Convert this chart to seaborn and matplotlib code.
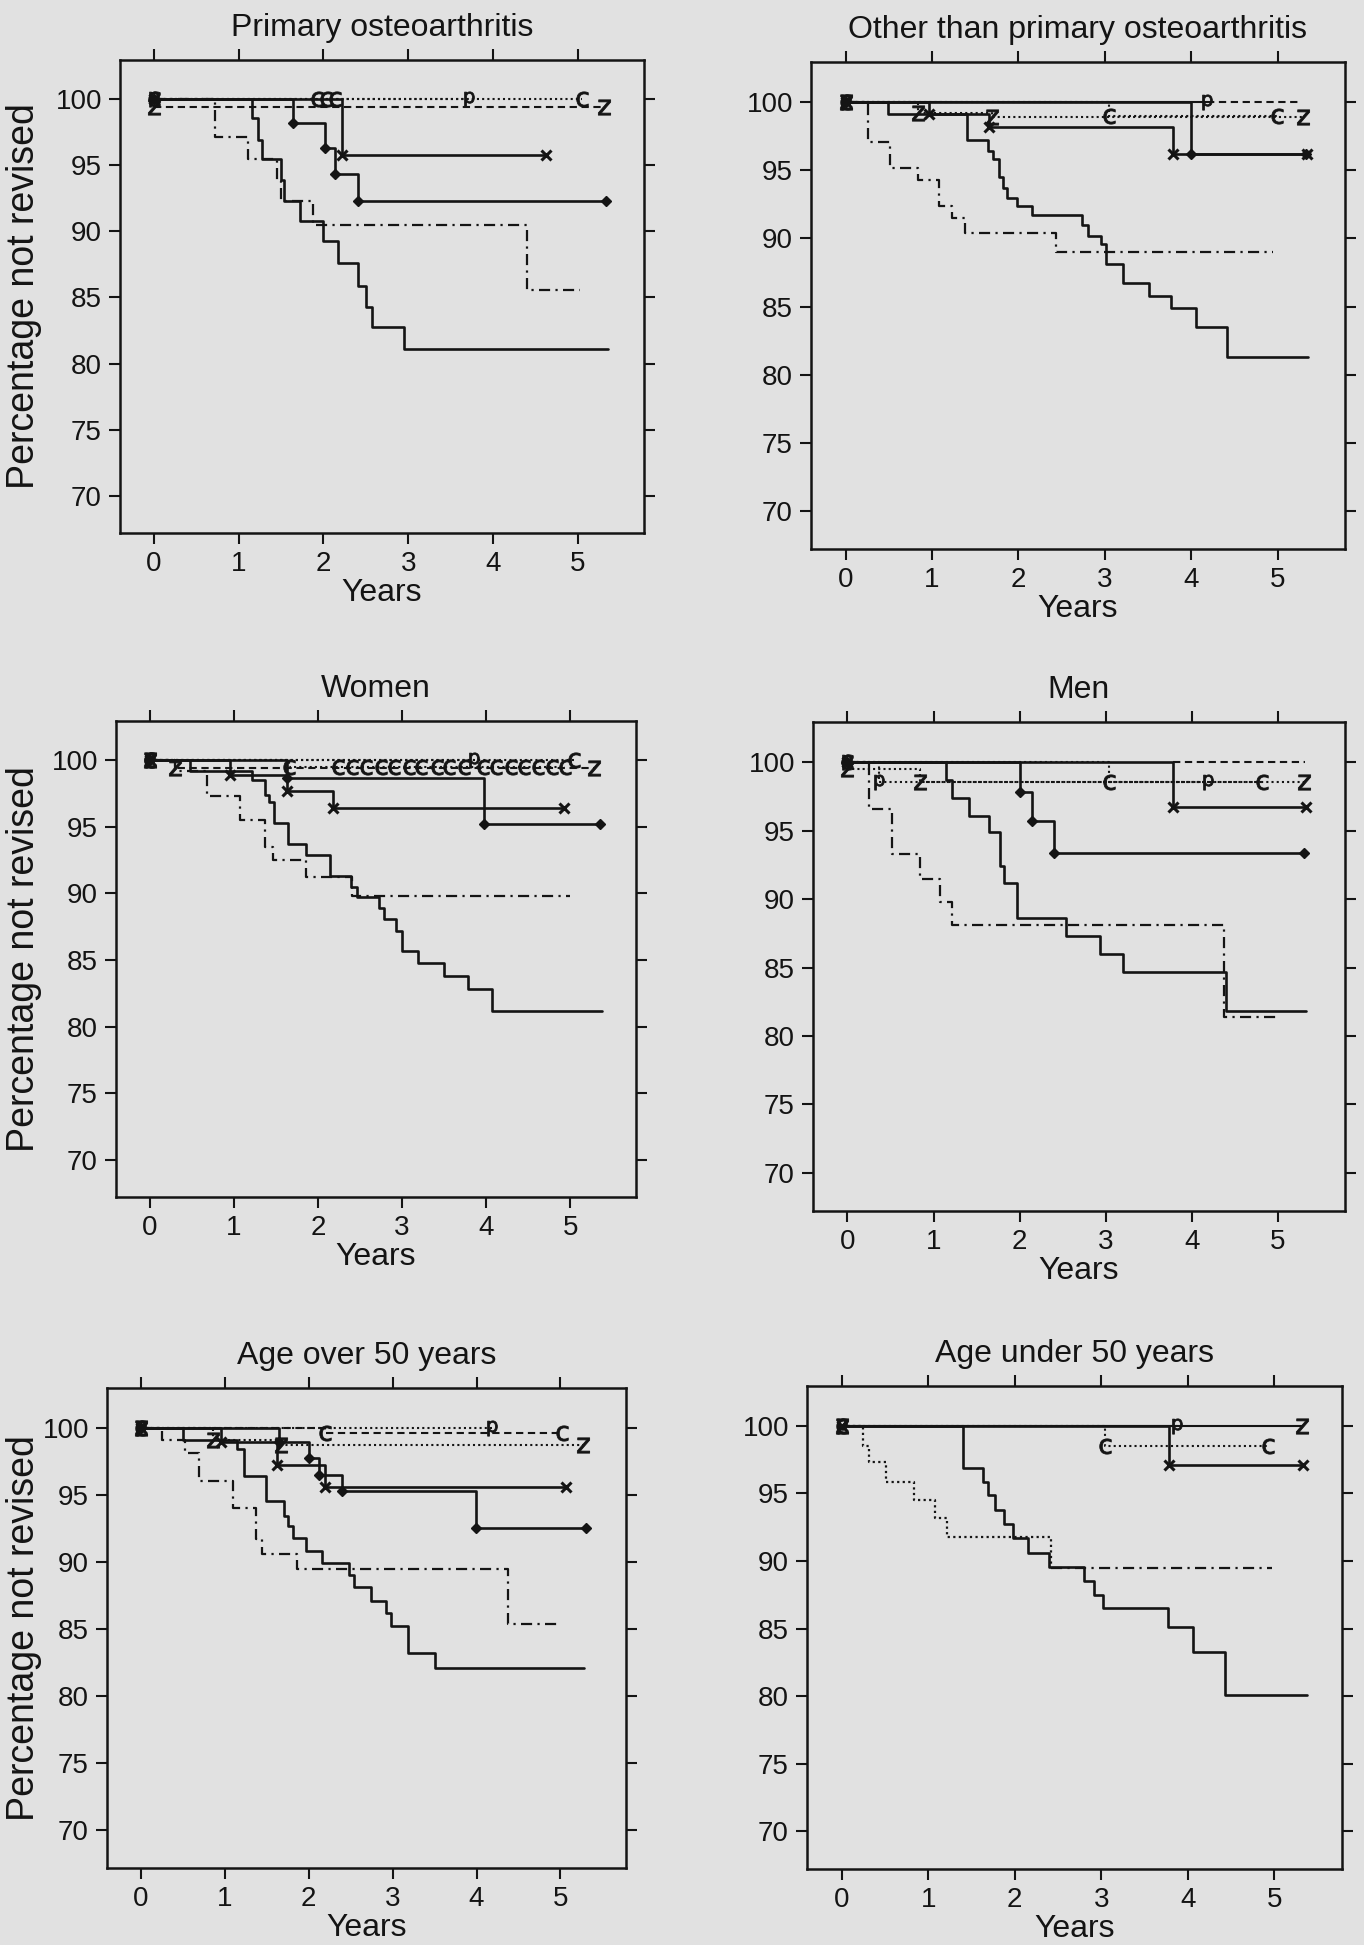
import matplotlib
matplotlib.use("Agg")
import matplotlib.pyplot as plt
import seaborn as sns

# Kaplan-Meier steps: (years, percentage not revised)
POA_SOLID = [(0, 100), (1.16, 98.6), (1.23, 96.9), (1.27, 95.5), (1.50, 93.9), (1.53, 92.3), (1.72, 90.8),
             (1.99, 89.3), (2.17, 87.6), (2.41, 85.9), (2.50, 84.3), (2.57, 82.8), (2.95, 81.1), (5.35, 81.1)]
POA_DASHDOT = [(0, 100), (0.72, 97.1), (1.11, 95.5), (1.45, 93.8), (1.50, 92.3), (1.88, 90.5), (4.40, 85.6), (5.03, 85.6)]
POA_DIAMOND = [(0, 100), (1.64, 98.2), (2.02, 96.3), (2.14, 94.3), (2.41, 92.3), (5.33, 92.3)]
POA_X = [(0, 100), (2.22, 95.8), (4.63, 95.8)]
POA_P = [(0, 100), (3.72, 100)]
POA_C = [(0, 100), (1.92, 100), (2.03, 100), (2.14, 100), (5.05, 100)]
POA_Z = [(0, 99.4), (5.31, 99.4)]

OTHER_SOLID = [(0, 100), (0.49, 99.1), (1.41, 97.2), (1.65, 96.4), (1.71, 95.8), (1.77, 94.5), (1.82, 93.7),
               (1.87, 93.0), (1.98, 92.4), (2.16, 91.7), (2.74, 91.0), (2.80, 90.2), (2.96, 89.6), (3.01, 88.1),
               (3.21, 86.7), (3.51, 85.8), (3.77, 84.9), (4.05, 83.5), (4.42, 81.3), (5.35, 81.3)]
OTHER_DASHDOT = [(0, 100), (0.26, 97.1), (0.51, 95.2), (0.84, 94.3), (1.08, 92.4), (1.23, 91.5), (1.38, 90.4),
                 (2.43, 89.0), (4.95, 89.0)]
OTHER_DIAMOND = [(0, 100), (4.00, 96.2), (5.33, 96.2)]
OTHER_X = [(0, 100), (0.97, 99.1), (1.66, 98.2), (3.79, 96.2), (5.34, 96.2)]
OTHER_P = [(0, 100), (4.18, 100)]
OTHER_TAIL = [(4.18, 100), (5.27, 100)]
OTHER_C = [(0, 100), (3.05, 99.0), (4.99, 99.0)]
OTHER_Z = [(0, 100), (0.84, 99.2), (1.70, 98.9), (5.29, 98.9)]

WOMEN_SOLID = [(0, 100), (0.48, 99.2), (1.22, 98.5), (1.37, 97.4), (1.42, 96.9), (1.48, 95.3), (1.65, 93.7),
               (1.86, 92.9), (2.14, 91.3), (2.39, 90.5), (2.46, 89.7), (2.73, 88.9), (2.79, 88.1), (2.93, 87.2),
               (3.00, 85.7), (3.19, 84.8), (3.50, 83.8), (3.78, 82.8), (4.07, 81.2), (5.37, 81.2)]
WOMEN_DASHDOT = [(0, 100), (0.30, 99.2), (0.68, 97.3), (1.07, 95.5), (1.37, 93.5), (1.46, 92.5), (1.86, 91.2),
                 (2.40, 89.8), (5.00, 89.8)]
WOMEN_DIAMOND = [(0, 100), (1.63, 98.7), (3.97, 95.2), (5.35, 95.2)]
WOMEN_X = [(0, 100), (0.95, 98.9), (1.63, 97.7), (2.18, 96.4), (4.92, 96.4)]
WOMEN_P = [(0, 100), (3.86, 100)]
WOMEN_C = [(0, 100), (5.04, 100)]
WOMEN_CENS = [(0, 100), (1.66, 99.5), (2.24, 99.5), (2.41, 99.5), (2.57, 99.5), (2.75, 99.5), (2.90, 99.5),
              (3.08, 99.5), (3.23, 99.5), (3.41, 99.5), (3.56, 99.5), (3.73, 99.5), (3.96, 99.5), (4.12, 99.5),
              (4.29, 99.5), (4.45, 99.5), (4.62, 99.5), (4.78, 99.5), (4.94, 99.5)]
WOMEN_Z = [(0, 100), (0.30, 99.4), (5.28, 99.4)]

MEN_SOLID = [(0, 100), (1.14, 98.7), (1.22, 97.4), (1.41, 96.1), (1.64, 94.9), (1.77, 92.4), (1.82, 91.2),
             (1.97, 88.6), (2.54, 87.3), (2.93, 86.0), (3.20, 84.7), (4.40, 81.8), (5.33, 81.8)]
MEN_DASHDOT = [(0, 100), (0.25, 96.6), (0.52, 93.3), (0.84, 91.5), (1.07, 89.8), (1.22, 88.1), (4.38, 81.4), (4.98, 81.4)]
MEN_DIAMOND = [(0, 100), (2.01, 97.8), (2.14, 95.7), (2.40, 93.4), (5.30, 93.4)]
MEN_X = [(0, 100), (3.78, 96.7), (5.33, 96.7)]
MEN_TAIL = [(3.78, 100), (5.32, 100)]
MEN_P = [(0, 100), (0.37, 98.6), (4.19, 98.6)]
MEN_C = [(0, 100), (3.04, 98.6), (4.82, 98.6)]
MEN_Z = [(0, 99.5), (0.84, 98.6), (5.30, 98.6)]

OVER50_SOLID = [(0, 100), (0.50, 99.1), (1.15, 98.4), (1.23, 96.4), (1.49, 94.5), (1.71, 93.4), (1.75, 92.7),
                (1.81, 91.8), (1.97, 90.8), (2.16, 89.9), (2.48, 89.0), (2.54, 88.1), (2.74, 87.1), (2.92, 86.2),
                (2.98, 85.2), (3.18, 83.2), (3.50, 82.1), (5.28, 82.1)]
OVER50_DASHDOT = [(0, 100), (0.25, 99.1), (0.53, 98.1), (0.70, 96.0), (1.10, 94.0), (1.38, 91.7), (1.45, 90.6),
                  (1.86, 89.5), (4.37, 85.4), (4.99, 85.4)]
OVER50_DIAMOND = [(0, 100), (1.65, 98.9), (2.00, 97.7), (2.13, 96.5), (2.40, 95.3), (3.99, 92.5), (5.30, 92.5)]
OVER50_X = [(0, 100), (0.96, 98.9), (1.63, 97.2), (2.19, 95.6), (5.07, 95.6)]
OVER50_P = [(0, 100), (4.18, 100)]
OVER50_C = [(0, 100), (2.20, 99.6), (5.02, 99.6)]
OVER50_Z = [(0, 100), (0.86, 99.1), (1.67, 98.7), (5.27, 98.7)]

UNDER50_SOLID = [(0, 100), (1.40, 96.9), (1.63, 95.85), (1.69, 94.85), (1.77, 93.75), (1.88, 92.7), (1.98, 91.7),
                 (2.15, 90.6), (2.40, 89.55), (2.80, 88.5), (2.92, 87.5), (3.02, 86.5), (3.77, 85.1), (4.06, 83.25),
                 (4.43, 80.05), (5.37, 80.05)]
UNDER50_DOTTED = [(0, 100), (0.25, 98.5), (0.32, 97.3), (0.51, 95.85), (0.84, 94.5), (1.08, 93.15), (1.22, 91.8),
                  (2.42, 89.5)]
UNDER50_DASHDOT = [(2.42, 89.5), (4.97, 89.5)]
UNDER50_X = [(0, 100), (3.78, 97.1), (5.33, 97.1)]
UNDER50_P = [(0, 100), (3.87, 100)]
UNDER50_C = [(0, 100), (3.04, 98.5), (4.93, 98.5)]
UNDER50_Z = [(0, 100), (5.32, 100)]

TITLES = ["Primary osteoarthritis", "Other than primary osteoarthritis", "Women", "Men",
          "Age over 50 years", "Age under 50 years"]
YEAR_TICKS = [0, 1, 2, 3, 4, 5]
PCT_TICKS = [70, 75, 80, 85, 90, 95, 100]

PANELS = [
    [(POA_P, "p:"), (POA_C, "c:"), (POA_Z, "z--"), (POA_X, "x"), (POA_DIAMOND, "diamond"),
     (POA_DASHDOT, "dashdot"), (POA_SOLID, "solid")],
    [(OTHER_TAIL, "dashed"), (OTHER_P, "p-"), (OTHER_C, "c:"), (OTHER_Z, "z:"), (OTHER_X, "x"),
     (OTHER_DIAMOND, "diamond"), (OTHER_DASHDOT, "dashdot"), (OTHER_SOLID, "solid")],
    [(WOMEN_P, "p:"), (WOMEN_C, "c:"), (WOMEN_CENS, "c:"), (WOMEN_Z, "z--"), (WOMEN_X, "x"),
     (WOMEN_DIAMOND, "diamond"), (WOMEN_DASHDOT, "dashdot"), (WOMEN_SOLID, "solid")],
    [(MEN_TAIL, "dashed"), (MEN_P, "p:"), (MEN_C, "c:"), (MEN_Z, "z:"), (MEN_X, "x"),
     (MEN_DIAMOND, "diamond"), (MEN_DASHDOT, "dashdot"), (MEN_SOLID, "solid")],
    [(OVER50_P, "p:"), (OVER50_C, "c--"), (OVER50_Z, "z:"), (OVER50_X, "x"), (OVER50_DIAMOND, "diamond"),
     (OVER50_DASHDOT, "dashdot"), (OVER50_SOLID, "solid")],
    [(UNDER50_P, "p-"), (UNDER50_Z, "z-"), (UNDER50_C, "c:"), (UNDER50_X, "x"),
     (UNDER50_DOTTED, "dotted"), (UNDER50_DASHDOT, "dashdot"), (UNDER50_SOLID, "solid")],
]

# plot frames on the 1364 x 1945 page, pixels: left, right, top, bottom
FRAMES = [(120, 644, 60, 533), (811, 1345, 62, 549),
          (116, 636, 721, 1197), (813, 1345, 722, 1211),
          (107, 626, 1388, 1868), (807, 1342, 1386, 1869)]
W, H = 1364, 1945
YLABEL_RIGHT = 42  # page pixel where the rotated y label ends

INK = "#141414"
PAPER = "#e1e1e1"
LS = {"-": "-", ":": (0, (1, 1.5)), "--": (0, (3.5, 2.2))}


def line_kws(style):
    if style == "solid":
        return dict(ls="-", lw=1.9)
    if style == "dashdot":
        return dict(ls=(0, (5, 2.4, 1, 2.4)), lw=1.6)
    if style == "dotted":
        return dict(ls=LS[":"], lw=1.6)
    if style == "dashed":
        return dict(ls=LS["--"], lw=1.5)
    if style == "diamond":
        return dict(ls="-", lw=1.9, marker="D", ms=5, mec=INK, mfc=INK, mew=1)
    if style == "x":
        return dict(ls="-", lw=1.9, marker="x", ms=7, mec=INK, mew=2.2)
    letter, ls = style[0], style[1:]
    return dict(ls=LS[ls], lw=1.5, marker=r"$\mathsf{%s}$" % letter, ms=11, mec=INK, mfc=INK, mew=0.6)


sns.set_theme(style="ticks")
plt.rcParams["font.family"] = ["Liberation Sans", "DejaVu Sans"]

fig = plt.figure(figsize=(W / 100, H / 100), dpi=100, facecolor=PAPER)

for i, (title, curves, frame) in enumerate(zip(TITLES, PANELS, FRAMES)):
    left, right, top, bottom = frame
    ax = fig.add_axes([left / W, 1 - bottom / H, (right - left) / W, (bottom - top) / H])
    ax.set_facecolor(PAPER)
    for pts, style in curves:
        t = [p[0] for p in pts]
        s = [p[1] for p in pts]
        sns.lineplot(x=t, y=s, ax=ax, estimator=None, sort=False, drawstyle="steps-post",
                     color=INK, **line_kws(style))
    ax.set_xlim(-0.4, 5.78)
    ax.set_ylim(67.2, 102.95)
    ax.set_xticks(YEAR_TICKS)
    ax.set_yticks(PCT_TICKS)
    ax.set_xticklabels([str(v) for v in YEAR_TICKS])
    ax.set_yticklabels([str(v) for v in PCT_TICKS])
    ax.tick_params(direction="out", length=8, width=1.5, color=INK, top=True, right=True,
                   labeltop=False, labelright=False, labelsize=20, labelcolor=INK, pad=5)
    for sp in ax.spines.values():
        sp.set_linewidth(1.8)
        sp.set_color(INK)
    ax.set_title(title, fontsize=23, color=INK, pad=17)
    ax.set_xlabel("Years", fontsize=23, color=INK, labelpad=1)
    if i % 2 == 0:
        ax.set_ylabel("Percentage not revised", fontsize=27, color=INK)
        ax.yaxis.set_label_coords((YLABEL_RIGHT - left) / (right - left), 0.5)
    else:
        ax.set_ylabel("")

fig.savefig("out.png", dpi=100, facecolor=PAPER)
